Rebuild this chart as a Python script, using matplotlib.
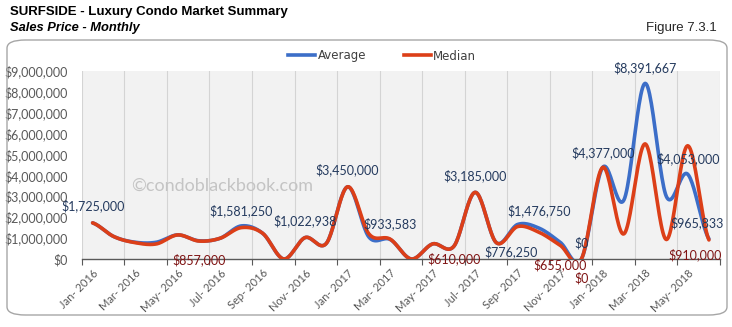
import matplotlib
matplotlib.use("Agg")
import matplotlib.pyplot as plt
from matplotlib.patches import FancyBboxPatch
from matplotlib.lines import Line2D
from matplotlib.ticker import FuncFormatter
import numpy as np

# monthly sales price, Jan 2016 - Jun 2018
months = ["Jan", "Feb", "Mar", "Apr", "May", "Jun", "Jul", "Aug", "Sep", "Oct", "Nov", "Dec"]
periods = [f"{months[m]}- {2016 + y}" for y in range(3) for m in range(12)][:30]

average = [1725000, 1070000, 800000, 800000, 1150000, 870000, 990000, 1581250, 1230000, 0,
           1022938, 750000, 3450000, 1050000, 933583, 0, 720000, 610000, 3185000, 776250,
           1650000, 1476750, 800000, 0, 4377000, 2820000, 8391667, 2980000, 4053000, 965833]
median = [1725000, 1070000, 780000, 720000, 1150000, 857000, 990000, 1500000, 1230000, 0,
          1022938, 750000, 3450000, 1200000, 950000, 0, 720000, 610000, 3185000, 776250,
          1550000, 1280000, 655000, 0, 4377000, 1200000, 5500000, 930000, 5410000, 910000]

# which points get a value label: (index, dx px, dy px)
avg_labels = [(0, 0, 17), (7, 0, 15), (10, 0, 17), (12, 0, 17), (14, 0, 16), (18, 0, 17),
              (19, 15, -9), (21, 0, 17), (23, 0, 16), (24, 0, 15), (26, 0, 16), (28, 0, 15),
              (29, -12, 16)]
med_labels = [(5, 0, -19), (17, 0, -13), (22, 0, -19), (23, 0, -19), (29, -14, -15)]

BLUE = "#3c6ec8"
RED = "#dc3f18"
LABEL_BLUE = "#243a5e"
LABEL_RED = "#7f1414"
GREY = "#595959"


def smooth(vals, n=24):
    # Catmull-Rom spline through the points, similar to a smoothed line chart
    p = np.concatenate([[vals[0]], vals, [vals[-1]]]).astype(float)
    xs, ys = [], []
    t = np.linspace(0, 1, n, endpoint=False)
    for i in range(len(vals) - 1):
        p0, p1, p2, p3 = p[i], p[i + 1], p[i + 2], p[i + 3]
        ys.append(0.5 * (2 * p1 + (-p0 + p2) * t + (2 * p0 - 5 * p1 + 4 * p2 - p3) * t ** 2
                         + (-p0 + 3 * p1 - 3 * p2 + p3) * t ** 3))
        xs.append(i + t)
    xs.append([len(vals) - 1])
    ys.append([vals[-1]])
    return np.concatenate(xs), np.concatenate(ys)


fig = plt.figure(figsize=(7.32, 3.27), dpi=100)
ax = fig.add_axes([0.112, 0.208, 0.871, 0.576])
ax.set_facecolor("#f2f2f2")

x = np.arange(len(periods))
xa, ya = smooth(average)
xm, ym = smooth(median)
ax.plot(xa, ya, color=BLUE, lw=2.6, solid_capstyle="round", zorder=3)
ax.plot(xm, ym, color=RED, lw=2.6, solid_capstyle="round", zorder=4)

ax.set_xlim(-0.5, len(periods) - 0.5)
ax.set_ylim(0, 9000000)

# gridlines/ticks on category boundaries, labels on every other category
ax.set_xticks(np.arange(-0.5, len(periods), 2))
ax.set_xticklabels([])
ax.set_xticks(x[::2], minor=True)
ax.set_xticklabels(periods[::2], minor=True, rotation=45, ha="right", va="top",
                   rotation_mode="anchor", fontsize=8, color=GREY, family="Lato")
ax.tick_params(axis="x", which="major", length=4, color=GREY, direction="out")
ax.tick_params(axis="x", which="minor", length=0, pad=6)
ax.grid(axis="x", which="major", color="#d4d4d4", lw=0.8)
ax.set_axisbelow(True)

ax.set_yticks(np.arange(0, 9000001, 1000000))
ax.yaxis.set_major_formatter(FuncFormatter(lambda v, _: f"${v:,.0f}"))
ax.tick_params(axis="y", length=0, pad=10, labelsize=9, labelcolor=GREY)
for lab in ax.get_yticklabels():
    lab.set_family("Lato")

for side in ["left", "right", "top"]:
    ax.spines[side].set_visible(False)
ax.spines["bottom"].set_color(GREY)
ax.spines["bottom"].set_linewidth(1.0)

for i, dx, dy in avg_labels:
    ax.annotate(f"${average[i]:,}", (x[i], average[i]), xytext=(dx * 0.72, dy * 0.72),
                textcoords="offset points", ha="center", va="center", fontsize=9,
                color=LABEL_BLUE, family="Lato", zorder=5, annotation_clip=False)
for i, dx, dy in med_labels:
    ax.annotate(f"${median[i]:,}", (x[i], median[i]), xytext=(dx * 0.72, dy * 0.72),
                textcoords="offset points", ha="center", va="center", fontsize=9,
                color=LABEL_RED, family="Lato", zorder=5, annotation_clip=False)

ax.text(6.1, 3500000, "\u00a9condoblackbook.com", fontsize=13, color="#c4c4c4",
        ha="center", va="center", family="Lato", zorder=2)

# header
fig.text(10 / 732, 1 - 12 / 327, "SURFSIDE - Luxury Condo Market Summary", fontsize=9.5,
         fontweight="bold", family="Liberation Sans", va="center", ha="left")
fig.text(10 / 732, 1 - 28 / 327, "Sales Price - Monthly", fontsize=9.3, fontweight="bold",
         style="italic", family="Liberation Sans", va="center", ha="left")
fig.text(717 / 732, 1 - 28 / 327, "Figure 7.3.1", fontsize=9.5, family="Liberation Sans",
         va="center", ha="right", color="#262626")

# rounded frame around the chart
frame = FancyBboxPatch((7 / 732, 12 / 327), 720 / 732, 275 / 327,
                       boxstyle="round,pad=0,rounding_size=0.025", transform=fig.transFigure,
                       fill=False, edgecolor="#a6a6a6", lw=1.0)
fig.patches.append(frame)

handles = [Line2D([0], [0], color=BLUE, lw=2.6), Line2D([0], [0], color=RED, lw=2.6)]
fig.legend(handles, ["Average", "Median"], loc="center", bbox_to_anchor=(0.522, 1 - 56 / 327),
           ncol=2, frameon=False, fontsize=8.5, handlelength=2.3, handletextpad=0.2,
           columnspacing=3.2, labelcolor="#404040")

fig.savefig("out.png", dpi=100)
